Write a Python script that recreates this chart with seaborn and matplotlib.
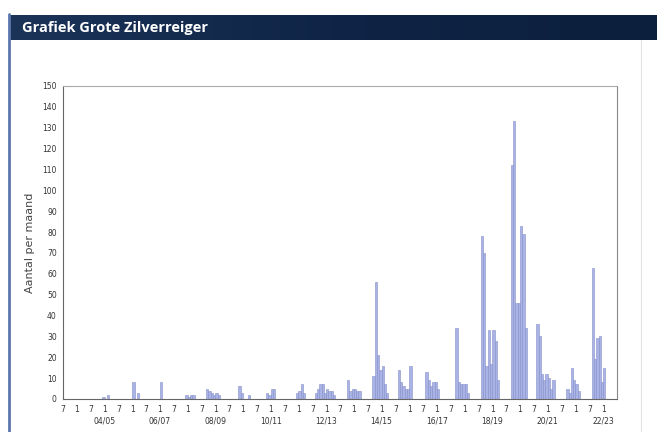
import numpy as np
import pandas as pd
import matplotlib
matplotlib.use("Agg")
import matplotlib.pyplot as plt
from matplotlib.transforms import blended_transform_factory
from matplotlib.colors import LinearSegmentedColormap
import seaborn as sns

# ---- data: monthly counts per season (Jul .. Jun) ----
seasons = ["03/04", "04/05", "05/06", "06/07", "07/08", "08/09", "09/10",
           "10/11", "11/12", "12/13", "13/14", "14/15", "15/16", "16/17",
           "17/18", "18/19", "19/20", "20/21", "21/22", "22/23"]
s0304 = [0, 0, 0, 0, 0, 0, 0, 0, 0, 0, 0, 0]
s0405 = [0, 0, 0, 0, 0, 1, 0, 2, 0, 0, 0, 0]
s0506 = [0, 0, 0, 0, 0, 0, 8, 0, 3, 0, 0, 0]
s0607 = [0, 0, 0, 0, 0, 0, 8, 0, 0, 0, 0, 0]
s0708 = [0, 0, 0, 0, 0, 2, 1, 2, 2, 0, 0, 0]
s0809 = [0, 0, 5, 4, 3, 2, 3, 2, 0, 0, 0, 0]
s0910 = [0, 0, 0, 0, 6, 3, 0, 0, 2, 0, 0, 0]
s1011 = [0, 0, 0, 0, 3, 2, 5, 5, 0, 0, 0, 0]
s1112 = [0, 0, 0, 0, 0, 3, 4, 7, 3, 0, 0, 0]
s1213 = [0, 3, 5, 7, 7, 3, 5, 4, 4, 2, 0, 0]
s1314 = [0, 0, 0, 9, 4, 5, 5, 4, 4, 0, 0, 0]
s1415 = [0, 0, 11, 56, 21, 14, 16, 7, 3, 0, 0, 0]
s1516 = [0, 14, 8, 6, 5, 5, 16, 0, 0, 0, 0, 0]
s1617 = [0, 13, 9, 6, 8, 8, 5, 0, 0, 0, 0, 0]
s1718 = [0, 0, 34, 8, 7, 7, 7, 3, 0, 0, 0, 0]
s1819 = [0, 78, 70, 16, 33, 17, 33, 28, 9, 0, 0, 0]
s1920 = [0, 0, 112, 133, 46, 46, 83, 79, 34, 0, 0, 0]
s2021 = [0, 36, 30, 12, 9, 12, 10, 5, 9, 0, 0, 0]
s2122 = [0, 0, 5, 3, 15, 9, 7, 4, 0, 0, 0, 0]
s2223 = [0, 63, 19, 29, 30, 8, 15, 0, 0, 0, 0, 0]
season_values = [s0304, s0405, s0506, s0607, s0708, s0809, s0910, s1011,
                 s1112, s1213, s1314, s1415, s1516, s1617, s1718, s1819,
                 s1920, s2021, s2122, s2223]
month_tick_labels = ["7", "1"]
labelled_seasons = seasons[1::2]

# ---- build table ----
rows = []
for s, vals in zip(seasons, season_values):
    for j, v in enumerate(vals):
        rows.append({"season": s, "m": len(rows), "value": v})
df = pd.DataFrame(rows)
n = len(df)

sns.set_style("white")
plt.rcParams["font.family"] = ["DejaVu Sans"]

W, H = 657, 432
fig = plt.figure(figsize=(W / 100, H / 100), dpi=100)
fig.patch.set_facecolor("white")

# title bar
bar_ax = fig.add_axes([10 / W, 1 - 40 / H, 1 - 10 / W, 25 / H])
grad = np.linspace(0, 1, 256).reshape(1, -1)
cmap = LinearSegmentedColormap.from_list("tb", ["#1b3458", "#0f2446", "#0c1f3c"])
bar_ax.imshow(grad, aspect="auto", cmap=cmap, extent=[0, 1, 0, 1])
bar_ax.set_axis_off()
fig.text(22 / W, 1 - 28 / H, "Grafiek Grote Zilverreiger", color="white",
         fontsize=10.5, fontweight="bold", family=["Open Sans", "DejaVu Sans"],
         va="center", ha="left")

# panel borders
fig.add_artist(plt.Line2D([9 / W, 9 / W], [0, 1 - 14 / H], transform=fig.transFigure,
                          color="#5b77ad", lw=2))
fig.add_artist(plt.Line2D([641 / W, 641 / W], [0, 1 - 40 / H], transform=fig.transFigure,
                          color="#e4e4e4", lw=0.8))

ax = fig.add_axes([63 / W, 1 - 399 / H, (617 - 63) / W, (399 - 86) / H])
sns.barplot(data=df, x="m", y="value", color="#a9b3e6", width=1.0,
            edgecolor="#8590c8", linewidth=0.4, saturation=1, errorbar=None, ax=ax)

ax.set_xlim(-0.5, n - 0.5)
ax.set_ylim(0, 150)
ax.set_yticks(range(0, 151, 10))
ax.tick_params(axis="y", labelsize=5.5, length=3, width=0.6, colors="#333333", pad=1.5)
tick_pos = np.arange(-0.5, n - 1, 6)
ax.set_xticks(tick_pos)
ax.set_xticklabels([month_tick_labels[i % 2] for i in range(len(tick_pos))])
ax.tick_params(axis="x", labelsize=5.5, length=5, width=0.6, direction="inout",
               colors="#333333", pad=1.5)
ax.set_xlabel("")
ax.set_ylabel("Aantal per maand", fontsize=8, color="#444444", labelpad=5)
for sp in ax.spines.values():
    sp.set_color("#666666")
    sp.set_linewidth(0.8)
ax.spines["top"].set_color("#aaaaaa")
ax.spines["right"].set_color("#888888")

trans = blended_transform_factory(ax.transData, ax.transAxes)
for k, s in enumerate(seasons):
    if s in labelled_seasons:
        xpos = 12 * k + 5.5
        ax.text(xpos, -22 / (399 - 86), s, transform=trans, ha="center", va="center",
                fontsize=5.5, color="#333333")

fig.savefig("out.png", dpi=100)
